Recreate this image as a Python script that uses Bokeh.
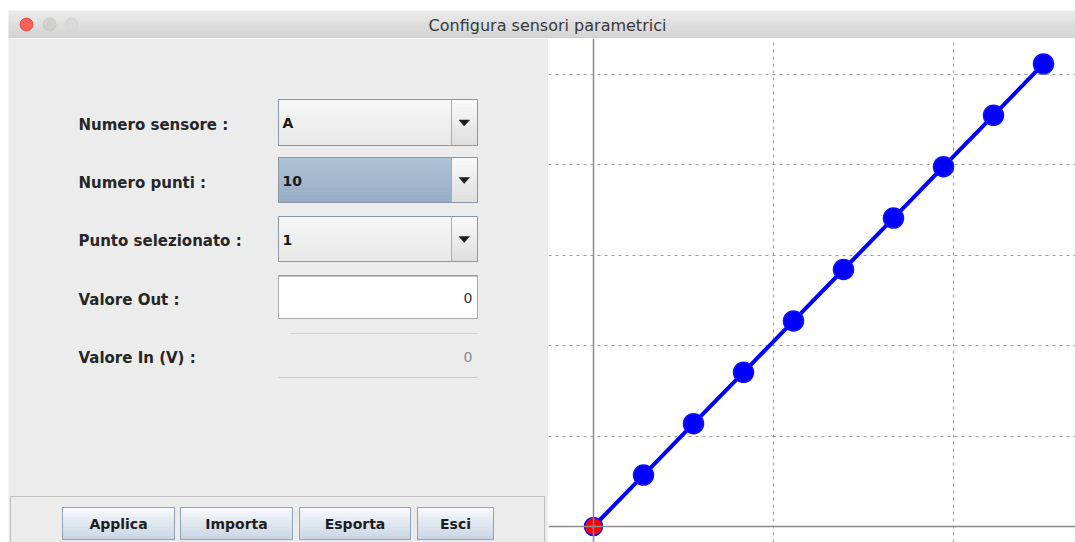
from bokeh.plotting import figure
from bokeh.models import Range1d, Span, FixedTicker, Grid, ColumnDataSource
from bokeh.layouts import column, row
from bokeh.embed import file_html
from bokeh.resources import INLINE
from bokeh.core.properties import value

# ---------------- data ----------------
window_title = "Configura sensori parametrici"
sensor_name = "A"
point_index = [1, 2, 3, 4, 5, 6, 7, 8, 9, 10]
valore_in = [0, 1, 2, 3, 4, 5, 6, 7, 8, 9]
valore_out = [0, 1, 2, 3, 4, 5, 6, 7, 8, 9]
selected_point = 1
form_labels = ["Numero sensore :", "Numero punti :", "Punto selezionato :",
               "Valore Out :", "Valore In (V) :"]
button_labels = ["Applica", "Importa", "Esporta", "Esci"]
x_grid_ticks = [3.6, 7.2]
y_grid_ticks = [1.76, 3.52, 5.28, 7.04, 8.8]

form_values = [sensor_name, str(len(point_index)), str(selected_point),
               str(valore_out[selected_point - 1]), str(valore_in[selected_point - 1])]

FONT = "DejaVu Sans"


def _rgb(h):
    h = h.lstrip("#")
    return [int(h[i:i + 2], 16) for i in (0, 2, 4)]


def _mix(a, b, t):
    ca, cb = _rgb(a), _rgb(b)
    return "#%02x%02x%02x" % tuple(round(ca[i] + (cb[i] - ca[i]) * t) for i in range(3))


def grad(f, x0, x1, y0, y1, ctop, cbot, n=12):
    step = (y1 - y0) / n
    tops = [y0 + k * step for k in range(n)]
    bots = [min(y0 + (k + 1) * step + 0.6, y1) for k in range(n)]
    cols = [_mix(ctop, cbot, (k + 0.5) / n) for k in range(n)]
    f.quad(left=x0, right=x1, top=tops, bottom=bots, fill_color=cols, line_color=None)


def ui_fig(w, h, x0, x1, y0, y1, bg):
    f = figure(width=w, height=h, x_range=Range1d(x0, x1), y_range=Range1d(y1, y0),
               x_axis_location=None, y_axis_location=None, toolbar_location=None,
               output_backend="svg", min_border=0, title=None, tools="")
    f.grid.visible = False
    f.outline_line_color = None
    f.background_fill_color = bg
    f.border_fill_color = bg
    return f


# ---------------- title bar ----------------
tf = ui_fig(1075, 38, 0, 1075, 0, 38, "#ffffff")
grad(tf, 8, 1075, 10, 37, "#ebebeb", "#d3d3d3", n=14)
tf.quad(left=8, right=1075, top=37, bottom=38, fill_color="#b3b3b3", line_color=None)
tf.scatter(x=[26, 49, 71], y=[24, 24, 24], size=[13, 13, 13],
           fill_color=["#fc5f57", "#cfd1cb", "#dadada"],
           line_color=["#e2453f", "#c4c6c0", "#d2d2d2"], line_width=0.8)
tf.text(x=[547], y=[25], text=[window_title], text_font=value(FONT), text_font_size="16px",
        text_color="#383838", text_align="center", text_baseline="middle")

# ---------------- left form panel ----------------
lf = ui_fig(548, 504, 0, 548, 38, 542, "#ffffff")
lf.quad(left=8, right=548, top=38, bottom=542, fill_color="#ececec", line_color=None)

row_y = [124, 182, 240, 299, 357]
lf.text(x=[78] * 5, y=row_y, text=form_labels, text_font=value(FONT), text_font_size="15px",
        text_font_style="bold", text_color="#262626", text_align="left", text_baseline="middle")

combo_boxes = [(99, 145), (157, 202), (216, 261)]
for k, (t, b) in enumerate(combo_boxes):
    if k == 1:
        grad(lf, 278, 451, t, b, "#aec3d6", "#94adc5")
    else:
        grad(lf, 278, 451, t, b, "#f7f7f7", "#e8e8e8")
    grad(lf, 451, 477, t, b, "#fafafa", "#dedede")
    lf.quad(left=278, right=477, top=t, bottom=b, fill_color=None, line_color="#8b97a5", line_width=1)
    lf.segment(x0=[451], y0=[t], x1=[451], y1=[b], line_color="#a3adb8", line_width=1)
    cy = (t + b) / 2
    lf.patches(xs=[[458.5, 469, 463.7]], ys=[[cy - 2.5, cy - 2.5, cy + 3.5]],
               fill_color="#1c1c1c", line_color="#1c1c1c", line_width=0.5)
lf.text(x=[282, 282, 282], y=[(t + b) / 2 + 0.5 for t, b in combo_boxes], text=form_values[:3],
        text_font=value(FONT), text_font_size="14px", text_font_style="bold",
        text_color="#1a1a1a", text_align="left", text_baseline="middle")

# text field (Valore Out)
lf.quad(left=278, right=477, top=275, bottom=318, fill_color="#ffffff", line_color="#a9a9a9", line_width=1)
lf.segment(x0=[278], y0=[275.5], x1=[477], y1=[275.5], line_color="#8e8e8e", line_width=1)
# disabled field (Valore In)
lf.segment(x0=[290, 278], y0=[333, 377], x1=[477, 477], y1=[333, 377],
           line_color=["#d3d3d3", "#c6cec6"], line_width=1.2)
lf.text(x=[472, 472], y=[297, 356], text=form_values[3:], text_font=value(FONT),
        text_font_size="14px", text_color=["#333333", "#8a8a8a"], text_align="right",
        text_baseline="middle")

# button panel
lf.quad(left=10, right=544, top=496, bottom=546, fill_color=None, line_color="#bdbdbd", line_width=1)
button_x = [(62, 174), (180, 292), (299, 410), (417, 493)]
for (l, r) in button_x:
    grad(lf, l, r, 507, 539, "#f8fafc", "#c8d5e2", n=10)
    lf.quad(left=l, right=r, top=507, bottom=539, fill_color=None, line_color="#8fa3b7", line_width=1)
lf.text(x=[(l + r) / 2 for l, r in button_x], y=[523] * 4, text=button_labels,
        text_font=value(FONT), text_font_size="14px", text_font_style="bold",
        text_color="#1e1e1e", text_align="center", text_baseline="middle")

# ---------------- chart ----------------
cp = figure(width=527, height=504, x_range=Range1d(-0.9, 9.64), y_range=Range1d(-0.311, 9.494),
            x_axis_location=None, y_axis_location=None, toolbar_location=None,
            output_backend="svg", min_border=0, title=None, tools="")
cp.grid.visible = False
cp.outline_line_color = None
cp.background_fill_color = "#ffffff"
cp.border_fill_color = "#ffffff"

cp.add_layout(Grid(dimension=0, ticker=FixedTicker(ticks=x_grid_ticks), grid_line_color="#9a9a9a",
                   grid_line_dash="3 4", grid_line_width=1))
cp.add_layout(Grid(dimension=1, ticker=FixedTicker(ticks=y_grid_ticks), grid_line_color="#9a9a9a",
                   grid_line_dash="3 4", grid_line_width=1))

src = ColumnDataSource(dict(
    x=valore_in, y=valore_out,
    color=["#ff0000" if k == selected_point else "#0000ff" for k in point_index],
    size=[18 if k == selected_point else 20 for k in point_index],
))
cp.line(x="x", y="y", source=src, line_color="#0000ff", line_width=4)
cp.scatter(x="x", y="y", source=src, size="size", fill_color="color",
           line_color="#1010ff", line_width=1.5)

cp.add_layout(Span(location=0, dimension="height", line_color="#8c8c8c", line_width=1.5))
cp.add_layout(Span(location=0, dimension="width", line_color="#8c8c8c", line_width=1.5))

layout = column(tf, row(lf, cp, spacing=0), spacing=0)

open("out.html", "w").write(file_html(layout, INLINE))
